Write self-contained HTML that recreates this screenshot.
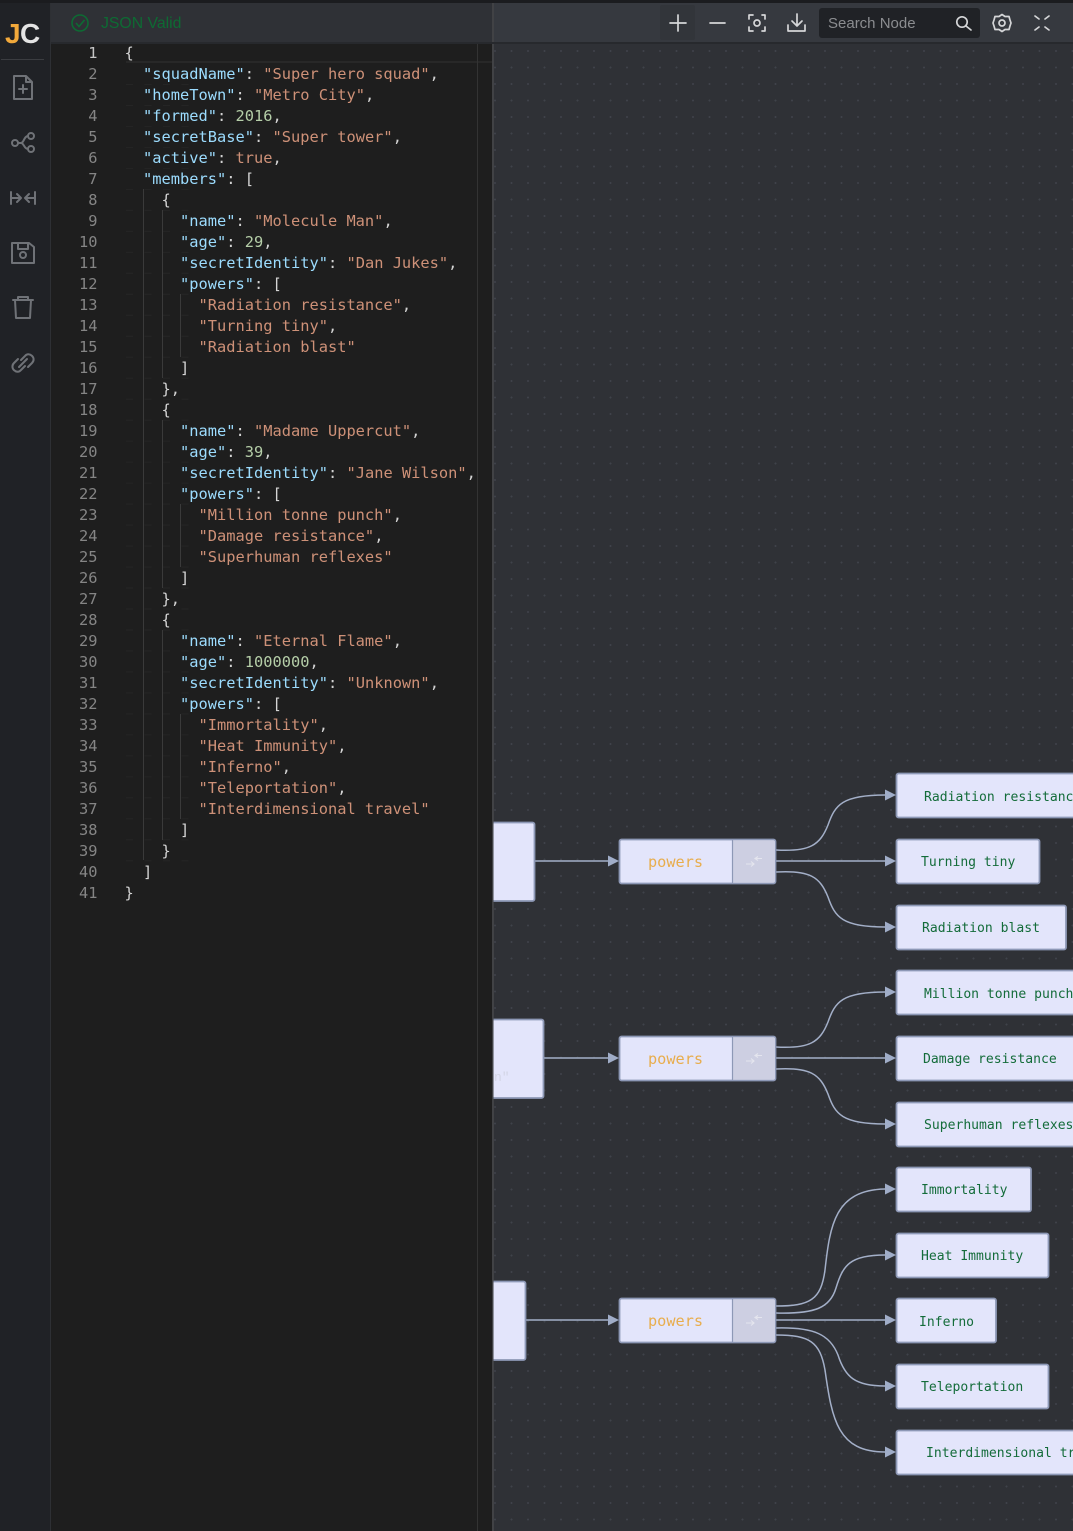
<!DOCTYPE html>
<html><head><meta charset="utf-8">
<style>
html,body{margin:0;padding:0;background:#1e1e1e}
#r{position:relative;width:1073px;height:1531px;overflow:hidden;background:#1e1e1e}
.a{position:absolute}
pre{margin:0;font:15.36px/20.98px "DejaVu Sans Mono","Liberation Mono",monospace;color:#d4d4d4}
#c{left:124.5px;top:43.4px;white-space:pre}
#n{left:60px;top:43.4px;width:37.5px;text-align:right;color:#858585}
.k{color:#9cdcfe}.s{color:#ce9178}.d{color:#b5cea8}
</style></head><body><div id="r">
<div class="a" style="left:0;top:0;width:1073px;height:3px;background:#1b1c1f"></div>
<div class="a" style="left:0;top:3px;width:50px;height:1528px;background:#202226;border-right:1px solid #2e3034"></div>
<div class="a" style="left:51px;top:3px;width:442px;height:40px;background:#2f3136"></div>
<div class="a" style="left:51px;top:43px;width:442px;height:1488px;background:#1e1e1e"></div>
<div class="a" style="left:126px;top:43px;width:367px;height:20px;border-bottom:2px solid #282828;box-sizing:border-box"></div>
<div class="a" style="left:477px;top:43px;width:1px;height:1488px;background:#333"></div>
<div class="a" style="left:493px;top:3px;width:580px;height:40px;background:#36393f"></div>
<div class="a" style="left:492px;top:3px;width:2px;height:1528px;background:#414245"></div>
<div class="a" style="left:494px;top:44px;width:579px;height:1487px;background-color:#2f3136;background-image:radial-gradient(circle at 1px 1px,#3f424a 0.8px,transparent 1.1px);background-size:16.5px 16.5px;background-position:0 6px"></div>
<div class="a" style="left:493px;top:42px;width:580px;height:2px;background:#27292d"></div>
<div class="a" style="left:51px;top:42px;width:442px;height:2px;background:#27292d"></div>

<!-- indent guides -->
<div class="a" style="left:143px;top:189px;width:1px;height:671px;background:#3a3a3a"></div>
<div class="a" style="left:162px;top:210px;width:1px;height:168px;background:#3a3a3a"></div>
<div class="a" style="left:162px;top:420px;width:1px;height:168px;background:#3a3a3a"></div>
<div class="a" style="left:162px;top:630px;width:1px;height:210px;background:#3a3a3a"></div>
<div class="a" style="left:180px;top:294px;width:1px;height:63px;background:#3a3a3a"></div>
<div class="a" style="left:180px;top:504px;width:1px;height:63px;background:#3a3a3a"></div>
<div class="a" style="left:180px;top:714px;width:1px;height:105px;background:#3a3a3a"></div>

<pre class="a" id="n"><span style="color:#c6c6c6">1</span>
2
3
4
5
6
7
8
9
10
11
12
13
14
15
16
17
18
19
20
21
22
23
24
25
26
27
28
29
30
31
32
33
34
35
36
37
38
39
40
41</pre>
<pre class="a" id="c">{
  <span class="k">"squadName"</span>: <span class="s">"Super hero squad"</span>,
  <span class="k">"homeTown"</span>: <span class="s">"Metro City"</span>,
  <span class="k">"formed"</span>: <span class="d">2016</span>,
  <span class="k">"secretBase"</span>: <span class="s">"Super tower"</span>,
  <span class="k">"active"</span>: <span class="s">true</span>,
  <span class="k">"members"</span>: [
    {
      <span class="k">"name"</span>: <span class="s">"Molecule Man"</span>,
      <span class="k">"age"</span>: <span class="d">29</span>,
      <span class="k">"secretIdentity"</span>: <span class="s">"Dan Jukes"</span>,
      <span class="k">"powers"</span>: [
        <span class="s">"Radiation resistance"</span>,
        <span class="s">"Turning tiny"</span>,
        <span class="s">"Radiation blast"</span>
      ]
    },
    {
      <span class="k">"name"</span>: <span class="s">"Madame Uppercut"</span>,
      <span class="k">"age"</span>: <span class="d">39</span>,
      <span class="k">"secretIdentity"</span>: <span class="s">"Jane Wilson"</span>,
      <span class="k">"powers"</span>: [
        <span class="s">"Million tonne punch"</span>,
        <span class="s">"Damage resistance"</span>,
        <span class="s">"Superhuman reflexes"</span>
      ]
    },
    {
      <span class="k">"name"</span>: <span class="s">"Eternal Flame"</span>,
      <span class="k">"age"</span>: <span class="d">1000000</span>,
      <span class="k">"secretIdentity"</span>: <span class="s">"Unknown"</span>,
      <span class="k">"powers"</span>: [
        <span class="s">"Immortality"</span>,
        <span class="s">"Heat Immunity"</span>,
        <span class="s">"Inferno"</span>,
        <span class="s">"Teleportation"</span>,
        <span class="s">"Interdimensional travel"</span>
      ]
    }
  ]
}</pre>

<svg class="a" style="left:0;top:0" width="1073" height="1531" viewBox="0 0 1073 1531">
<style>
.nd{fill:#e3e5fb;stroke:#8d98b6;stroke-width:1.8}
.e{fill:none;stroke:#a3afc8;stroke-width:1.5}
.ah{fill:#a0adc8}
.ic{fill:none;stroke:#6f7277;stroke-width:2;stroke-linejoin:round;stroke-linecap:round}
.tb{fill:none;stroke:#d5d6d8;stroke-width:1.7;stroke-linecap:round;stroke-linejoin:round}
.lf{font:13.07px "DejaVu Sans Mono","Liberation Mono",monospace;fill:#146c3a}
.pw{font:15.25px "DejaVu Sans Mono","Liberation Mono",monospace;fill:#e8ad4d}
</style>
<defs><pattern id="ds" x="126" y="84" width="18.5" height="20.98" patternUnits="userSpaceOnUse"><rect width="7" height="1" fill="#252525"/></pattern></defs>
<rect x="126" y="84" width="64" height="780" fill="url(#ds)"/>
<!-- logo -->
<text x="5" y="43" font-family="Liberation Sans,sans-serif" font-weight="700" font-size="28" fill="#f2a93b">J</text>
<text x="20" y="43" font-family="Liberation Sans,sans-serif" font-weight="700" font-size="28" fill="#e4e4e4">C</text>
<line x1="1" y1="59.500" x2="44" y2="59.500" stroke="#3b3d41"/>
<!-- sidebar icons -->
<path class="ic" d="M14 76H26L32 82V99H14ZM26 76V82H32M23 85V93M19 89H27"/>
<circle class="ic" cx="15" cy="143" r="3"/><circle class="ic" cx="31" cy="136" r="3"/><circle class="ic" cx="31" cy="149" r="3"/>
<path class="ic" d="M18 143H21C24 143 24 136 28 136M21 143C24 143 24 149 28 149"/>
<path class="ic" d="M11 192V204M35 192V204M12 198H20M17 194L21 198L17 202M34 198H26M29 194L25 198L29 202"/>
<path class="ic" d="M12 243H29L34 247V263H12ZM18 243V249H28V243"/><circle class="ic" cx="23" cy="255" r="3"/>
<path class="ic" d="M13 300H33M18 300V297H28V300M15 300L16 318H30L31 300"/>
<path class="ic" d="M21 360L25 356C29 351 37 358 32 363L28 367M25 366L21 370C17 375 9 368 14 363L18 359M19 367L27 359"/>
<!-- json valid -->
<circle cx="80" cy="23" r="8" fill="none" stroke="#0d6b33" stroke-width="1.6"/>
<path d="M76 23L79 26.500L84.500 20" fill="none" stroke="#0d6b33" stroke-width="1.6"/>
<text x="101" y="28" font-family="Liberation Sans,sans-serif" font-size="15.8" fill="#0d6b33">JSON Valid</text>
<!-- toolbar -->
<rect x="660" y="5" width="35" height="35" rx="2" fill="#32353a"/>
<path class="tb" d="M678 15V31M670 23H686M710 23H725"/>
<path class="tb" d="M749 19V15H753M762 15H765V19M765 27V31H762M753 31H749V27"/><circle class="tb" cx="757" cy="23" r="3"/>
<path class="tb" d="M797 14V26M792 21L797 26L802 21M788 25V31H805V25"/>
<rect x="819" y="8" width="161" height="30" rx="3" fill="#202226"/>
<text x="828" y="28" font-family="Liberation Sans,sans-serif" font-size="15" fill="#8b8d90">Search Node</text>
<circle class="tb" cx="962" cy="22" r="5.200" stroke-width="1.300"/><path class="tb" d="M966 26L971 30" stroke-width="1.300"/>
<path class="tb" d="M1002 14.500L1005 16.500H1009L1010 20L1011 23L1010 26L1009 29.500H1005L1002 31.500L999 29.500H995L994 26L993 23L994 20L995 16.500H999Z"/><circle class="tb" cx="1002" cy="23" r="3"/>
<path class="tb" d="M1035 16L1039 19M1049 16L1045 19M1035 30L1039 27M1049 30L1045 27"/>

<!-- edges -->
<path class="e" d="M534 861H610M526 1320H610M543 1058H610"/>
<path class="e" d="M776 850C810 852 820 845 828 825C835 805 842 795 885 795M776 861H885M776 872C810 870 820 877 828 897C835 917 842 927 885 927"/>
<path class="e" d="M776 1047C810 1049 820 1042 828 1022C835 1002 842 992 885 992M776 1058H885M776 1069C810 1067 820 1074 828 1094C835 1114 842 1124 885 1124"/>
<path class="e" d="M776 1306C810 1306 821 1300 825 1270C830 1225 835 1190 885 1189M776 1313C815 1314 830 1308 836 1288C843 1265 850 1255 885 1255M776 1320H885M776 1328C815 1327 830 1335 838 1355C845 1377 855 1386 885 1386M776 1335C810 1335 820 1342 825 1370C832 1420 838 1452 885 1452"/>
<!-- arrowheads -->
<path class="ah" d="M608 855.500L619 861L608 866.500ZM608 1052.500L619 1058L608 1063.500ZM608 1314.500L619 1320L608 1325.500Z"/>
<path class="ah" d="M885 789.500L896 795L885 800.500ZM885 855.500L896 861L885 866.500ZM885 921.500L896 927L885 932.500ZM885 986.500L896 992L885 997.500ZM885 1052.500L896 1058L885 1063.500ZM885 1118.500L896 1124L885 1129.500ZM885 1183.500L896 1189L885 1194.500ZM885 1249.500L896 1255L885 1260.500ZM885 1314.500L896 1320L885 1325.500ZM885 1380.500L896 1386L885 1391.500ZM885 1446.500L896 1452L885 1457.500Z"/>

<!-- stubs -->
<path class="nd" d="M493.500 822.500H532.500a2 2 0 0 1 2 2V899a2 2 0 0 1-2 2H493.500"/>
<path class="nd" d="M493.500 1019.500H541.500a2 2 0 0 1 2 2V1096a2 2 0 0 1-2 2H493.500"/>
<path class="nd" d="M493.500 1281.500H523.500a2 2 0 0 1 2 2V1358a2 2 0 0 1-2 2H493.500"/>
<text x="494" y="1081" font-family="Liberation Mono,monospace" font-size="13" fill="#d3d5e6">n"</text>

<!-- powers -->
<g>
<rect class="nd" x="619.500" y="839.500" width="156" height="44" rx="2"/>
<path d="M732.500 840.200H773.500a1.500 1.500 0 0 1 1.500 1.500V881.300a1.500 1.500 0 0 1-1.500 1.500H732.500Z" fill="#cdcfe2"/>
<line x1="732.500" y1="840" x2="732.500" y2="883" stroke="#8d98b6" stroke-width="1.200"/>
<path d="M746 864H754M751 861.500L754 864L751 866.500M762 858.500H755M758 856.500L755 858.500L758 860.500" fill="none" stroke="#e4e5ee" stroke-width="1.100"/>
<text class="pw" x="648" y="867">powers</text>
</g>
<g>
<rect class="nd" x="619.500" y="1036.500" width="156" height="44" rx="2"/>
<path d="M732.500 1037.200H773.500a1.500 1.500 0 0 1 1.500 1.500V1078.300a1.500 1.500 0 0 1-1.500 1.500H732.500Z" fill="#cdcfe2"/>
<line x1="732.500" y1="1037" x2="732.500" y2="1080" stroke="#8d98b6" stroke-width="1.200"/>
<path d="M746 1061H754M751 1058.500L754 1061L751 1063.500M762 1055.500H755M758 1053.500L755 1055.500L758 1057.500" fill="none" stroke="#e4e5ee" stroke-width="1.100"/>
<text class="pw" x="648" y="1064">powers</text>
</g>
<g>
<rect class="nd" x="619.500" y="1298.500" width="156" height="44" rx="2"/>
<path d="M732.500 1299.200H773.500a1.500 1.500 0 0 1 1.500 1.500V1340.300a1.500 1.500 0 0 1-1.500 1.500H732.500Z" fill="#cdcfe2"/>
<line x1="732.500" y1="1299" x2="732.500" y2="1342" stroke="#8d98b6" stroke-width="1.200"/>
<path d="M746 1323H754M751 1320.500L754 1323L751 1325.500M762 1317.500H755M758 1315.500L755 1317.500L758 1319.500" fill="none" stroke="#e4e5ee" stroke-width="1.100"/>
<text class="pw" x="648" y="1326">powers</text>
</g>

<!-- leaves -->
<rect class="nd" x="896.500" y="773.500" width="190" height="44" rx="2"/><text class="lf" x="924" y="801">Radiation resistance</text>
<rect class="nd" x="896.500" y="839.500" width="143" height="44" rx="2"/><text class="lf" x="921" y="866">Turning tiny</text>
<rect class="nd" x="896.500" y="905.500" width="169.500" height="44" rx="2"/><text class="lf" x="922" y="932">Radiation blast</text>
<rect class="nd" x="896.500" y="970.500" width="190" height="44" rx="2"/><text class="lf" x="924" y="998">Million tonne punch</text>
<rect class="nd" x="896.500" y="1036.500" width="190" height="44" rx="2"/><text class="lf" x="923" y="1063">Damage resistance</text>
<rect class="nd" x="896.500" y="1102.500" width="190" height="44" rx="2"/><text class="lf" x="924" y="1129">Superhuman reflexes</text>
<rect class="nd" x="896.500" y="1167.500" width="134.500" height="44" rx="2"/><text class="lf" x="921" y="1194">Immortality</text>
<rect class="nd" x="896.500" y="1233.500" width="152" height="44" rx="2"/><text class="lf" x="921" y="1260">Heat Immunity</text>
<rect class="nd" x="896.500" y="1298.500" width="99.500" height="44" rx="2"/><text class="lf" x="919" y="1326">Inferno</text>
<rect class="nd" x="896.500" y="1364.500" width="152" height="44" rx="2"/><text class="lf" x="921" y="1391">Teleportation</text>
<rect class="nd" x="896.500" y="1430.500" width="220" height="44" rx="2"/><text class="lf" x="926" y="1457">Interdimensional travel</text>
</svg>
</div></body></html>
